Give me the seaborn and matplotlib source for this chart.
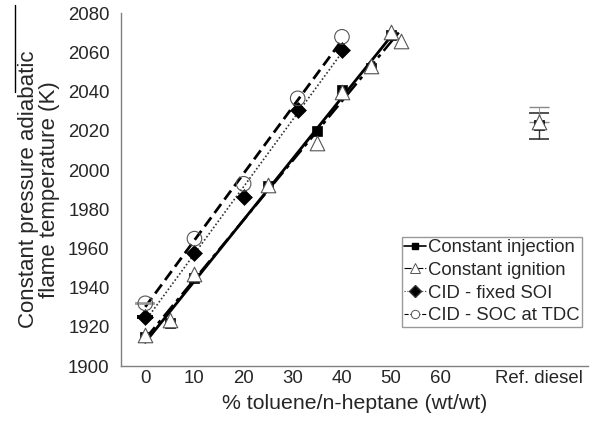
import matplotlib
matplotlib.use("Agg")
import matplotlib.pyplot as plt
from matplotlib.lines import Line2D
import seaborn as sns
import numpy as np

# Blend ratio (% toluene in n-heptane, wt/wt) and adiabatic flame temperature (K)
inj_x = [0, 5, 10, 25, 35, 40, 46, 50]
inj_T = [1915, 1922, 1945, 1992, 2020, 2041, 2052, 2069]

ign_x = [0, 5, 10, 25, 35, 40, 46, 50, 52]
ign_T = [1916, 1923.5, 1947, 1992.5, 2014, 2040, 2053, 2070.5, 2066]

soi_x = [0, 10, 20, 31, 40]
soi_T = [1925, 1957.6, 1986.4, 2030.7, 2061.3]

tdc_x = [0, 10, 20, 31, 40]
tdc_T = [1932, 1965, 1993, 2036.6, 2068]

# Reference diesel (placed after the blends on the x axis)
ref_pos = 80
ref_inj_T = 2023
ref_ign_T = 2024.5
ref_err = 7.8

tick_pos = [0, 10, 20, 30, 40, 50, 60, 80]
tick_labels = ["0", "10", "20", "30", "40", "50", "60", "Ref. diesel"]

series_labels = ["Constant injection", "Constant ignition",
                 "CID - fixed SOI", "CID - SOC at TDC"]

sns.set_style("white")
plt.rcParams["font.family"] = ["Liberation Sans", "DejaVu Sans"]

fig = plt.figure(figsize=(5.92, 4.26), dpi=100)
ax = fig.add_axes([0.2039, 0.1408, 0.789, 0.8280])

# Linear fits for each operating strategy
sns.regplot(x=inj_x, y=inj_T, ax=ax, ci=None, scatter=False,
            line_kws=dict(color="black", lw=2.0, ls="-"))
sns.regplot(x=ign_x, y=ign_T, ax=ax, ci=None, scatter=False,
            line_kws=dict(color="black", lw=1.8, ls=(0, (6, 2, 1.5, 2))))
sns.regplot(x=soi_x, y=soi_T, ax=ax, ci=None, scatter=False,
            line_kws=dict(color="#333333", lw=1.2, ls=(0, (1, 1.3))))
sns.regplot(x=tdc_x, y=tdc_T, ax=ax, ci=None, scatter=False,
            line_kws=dict(color="black", lw=2.0, ls=(0, (4, 2))))

# Small error bars at the pure n-heptane points
ax.errorbar(0, tdc_T[0], yerr=0.4, fmt="none", ecolor="#999999",
            capsize=7, capthick=1.2, elinewidth=0.8, ls=":", zorder=2)
ax.errorbar(0, soi_T[0], yerr=0.4, fmt="none", ecolor="black",
            capsize=5.5, capthick=1.4, elinewidth=0.8, zorder=2)

# Reference diesel error bars
ax.errorbar(ref_pos, ref_inj_T, yerr=[[ref_err - 0.8], [ref_err - 1.5]],
            fmt="none", ecolor="#333333", capsize=7, capthick=1.2,
            elinewidth=1.0, zorder=2)
eb = ax.errorbar(ref_pos, ref_ign_T, yerr=[[0.1], [ref_err]], fmt="none",
                 ecolor="#888888", capsize=7, capthick=1.0, elinewidth=0.6,
                 zorder=2)
for cap in eb[1]:
    cap.set_linestyle(":")

# Markers
sns.scatterplot(x=inj_x + [ref_pos], y=inj_T + [ref_inj_T], ax=ax,
                marker="s", s=55, color="black", edgecolor="black",
                linewidth=0.5, zorder=3)
sns.scatterplot(x=ign_x + [ref_pos], y=ign_T + [ref_ign_T], ax=ax,
                marker="^", s=110, color="white", edgecolor="#555555",
                linewidth=0.8, zorder=4)
sns.scatterplot(x=soi_x, y=soi_T, ax=ax, marker="D", s=65, color="black",
                edgecolor="black", linewidth=0.5, zorder=3)
sns.scatterplot(x=tdc_x, y=tdc_T, ax=ax, marker="o", s=110,
                facecolor="none", edgecolor="#555555", linewidth=0.8,
                zorder=4)

ax.set_xlim(-5, 90)
ax.set_ylim(1900, 2080)
ax.set_xticks(tick_pos)
ax.set_xticklabels(tick_labels)
ax.set_yticks(np.arange(1900, 2081, 20))

for side in ["top", "right"]:
    ax.spines[side].set_visible(False)
for side in ["left", "bottom"]:
    ax.spines[side].set_color("#808080")
    ax.spines[side].set_linewidth(1.0)

ax.tick_params(axis="x", direction="in", length=4, width=0.8,
               color="#808080", labelsize=13.4, pad=3)
ax.tick_params(axis="y", direction="out", length=3, width=0.8,
               color="#808080", labelsize=13.4, pad=5)

ax.set_xlabel("% toluene/n-heptane (wt/wt)", fontsize=15.3, labelpad=5)
ax.set_ylabel("Constant pressure adiabatic\nflame temperature (K)",
              fontsize=16, labelpad=6, linespacing=1.0)

handles = [
    Line2D([], [], color="black", lw=1.2, marker="s", markersize=5),
    Line2D([], [], color="black", lw=0.8, ls="-.", marker="^",
           markersize=7, markerfacecolor="white", markeredgecolor="#555555",
           markeredgewidth=0.7),
    Line2D([], [], color="#333333", lw=0.8, ls=":", marker="D",
           markersize=6, markerfacecolor="black"),
    Line2D([], [], color="black", lw=0.8, ls="--", marker="o",
           markersize=6, markerfacecolor="white", markeredgecolor="#555555",
           markeredgewidth=0.7),
]
leg = ax.legend(handles, series_labels, loc="upper left",
                bbox_to_anchor=(0.602, 0.366), fontsize=13.3,
                frameon=True, fancybox=False, borderpad=0.12,
                handlelength=1.2, handletextpad=0.1, labelspacing=0.31,
                borderaxespad=0.0)
leg.get_frame().set_edgecolor("#808080")
leg.get_frame().set_linewidth(1.0)

fig.add_artist(Line2D([15 / 592, 15 / 592], [1 - 5 / 426, 1 - 92 / 426],
                      transform=fig.transFigure, color="black", lw=1.0))

fig.savefig("out.png", dpi=100)
